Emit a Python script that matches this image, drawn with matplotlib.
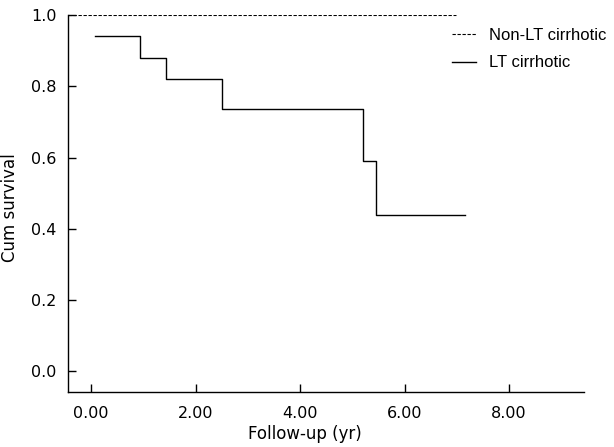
import matplotlib.pyplot as plt

# Kaplan-Meier curves
t_lt = [0.08, 0.94, 1.43, 2.50, 5.20, 5.46, 7.16]
s_lt = [0.94, 0.88, 0.82, 0.735, 0.59, 0.44, 0.44]

t_non = [-0.44, 6.98]
s_non = [1.0, 1.0]

xticks = [0, 2, 4, 6, 8]
xticklabels = ['0.00', '2.00', '4.00', '6.00', '8.00']
yticks = [0.0, 0.2, 0.4, 0.6, 0.8, 1.0]

plt.rcParams['font.family'] = 'DejaVu Sans'

fig = plt.figure(figsize=(6.14, 4.47), dpi=100)
ax = fig.add_axes([0.1107, 0.123, 0.8403, 0.8434])

ax.plot(t_non, s_non, color='black', linewidth=0.8, linestyle=(0, (3, 1.5)),
        drawstyle='steps-post', label='Non-LT cirrhotic')
ax.plot(t_lt, s_lt, color='black', linewidth=1.0, drawstyle='steps-post',
        label='LT cirrhotic')

ax.set_xlim(-0.44, 9.43)
ax.set_ylim(-0.058, 1.0)
ax.set_xticks(xticks)
ax.set_xticklabels(xticklabels)
ax.set_yticks(yticks)
ax.set_yticklabels(['%.1f' % v for v in yticks])
ax.tick_params(direction='in', length=6, width=1, labelsize=11.5)
ax.tick_params(axis='x', pad=10)
ax.tick_params(axis='y', pad=8)

for side in ['top', 'right']:
    ax.spines[side].set_visible(False)
for side in ['left', 'bottom']:
    ax.spines[side].set_linewidth(1)

ax.set_xlabel('Follow-up (yr)', fontsize=12)
ax.set_ylabel('Cum survival', fontsize=12)
ax.xaxis.set_label_coords(0.459, -0.087)
ax.yaxis.set_label_coords(-0.094, 0.49)

fig.legend(loc='upper right', bbox_to_anchor=(1.012, 0.971), frameon=False,
           prop={'family': 'Liberation Sans', 'size': 12},
           handlelength=1.4, handletextpad=0.8, labelspacing=0.75)

fig.savefig('out.png', dpi=100)
